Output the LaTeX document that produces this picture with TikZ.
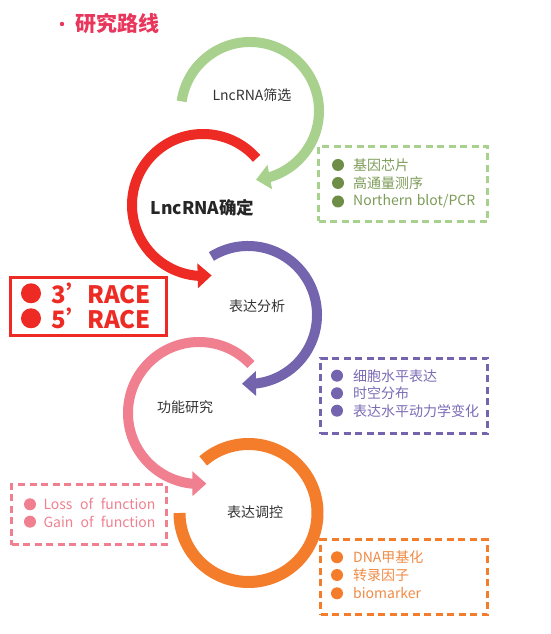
\documentclass[tikz,border=0pt]{standalone}
\usepackage{fontspec}
\setmainfont{Noto Sans CJK SC}
\usetikzlibrary{arrows.meta, bending, calc}

\definecolor{leafgreen}{HTML}{A9D18E}
\definecolor{olivedot}{HTML}{6E8E47}
\definecolor{olivetext}{HTML}{7D9B58}
\definecolor{racered}{HTML}{ED2A24}
\definecolor{lavender}{HTML}{7464AE}
\definecolor{lavtext}{HTML}{7A6BB5}
\definecolor{rosepink}{HTML}{F0808F}
\definecolor{tangerine}{HTML}{F47D2B}
\definecolor{tangtext}{HTML}{F08A45}
\definecolor{titlered}{HTML}{E8365C}
\definecolor{labelgray}{HTML}{333333}

\begin{document}
\begin{tikzpicture}[x=1pt, y=1pt,
    routearc/.style ={line width=10pt},
    arrowarc/.style ={routearc, -{Triangle[width=24pt, length=14pt]}},
    steplabel/.style={text=labelgray, inner sep=0pt, font=\fontsize{14}{16}\selectfont},
    notebox/.style  ={dash pattern=on 7pt off 4.5pt, line width=3pt, anchor=north west, inner sep=0pt},
    notetext/.style ={anchor=west, inner sep=0pt, font=\fontsize{14}{16}\selectfont},
    racetext/.style ={anchor=west, inner sep=0pt, text=racered, font=\bfseries\fontsize{24}{26}\selectfont}
]
\useasboundingbox (0,0) rectangle (550,634);

% ---------- parameters ----------
\def\rr{69pt}    % radius of the route circles
\def\rrb{71pt}   % radius of the left-hand circles
\def\dotr{6pt}   % bullet radius in the note boxes

% ---------- title ----------
\fill[titlered] (62,610) circle (2.2pt);
\node[anchor=west, inner sep=0pt, text=titlered, font=\bfseries\fontsize{21}{23}\selectfont] (title) at (75,611) {研究路线};

% ---------- circle centres ----------
\coordinate (Sc) at (250,523);   % screening
\coordinate (Cc) at (203,429);   % confirmation
\coordinate (Ec) at (248,319);   % expression
\coordinate (Fc) at (199,221);   % function
\coordinate (Rc) at (248.5,121); % regulation

% ---------- route arcs ----------
\draw[arrowarc, leafgreen] ($(Sc)+(172:\rr)$) arc[start angle=172, end angle=-85, radius=\rr];
\draw[arrowarc, racered]   ($(Cc)+(41:\rrb)$) arc[start angle=41, end angle=277, radius=\rrb];
\draw[arrowarc, lavender]  ($(Ec)+(122:\rr)$) arc[start angle=122, end angle=-95, radius=\rr];
\draw[arrowarc, rosepink]  ($(Fc)+(43:\rrb)$) arc[start angle=43, end angle=276, radius=\rrb];
\draw[routearc, tangerine, line width=12pt] ($(Rc)+(131:\rr)$) arc[start angle=131, end angle=-180, radius=\rr];

% ---------- step labels ----------
\node[steplabel] (screen) at (252,539) {LncRNA筛选};
\node[steplabel, text=black!85, font=\bfseries\fontsize{17.5}{19}\selectfont] (confirm) at (202.5,426.5) {LncRNA确定};
\node[steplabel] (express) at (257,327.3) {表达分析};
\node[steplabel] (funct)   at (185,227.3) {功能研究};
\node[steplabel] (regul)   at (255,122.3) {表达调控};

% ---------- screening methods ----------
\node[notebox, draw=leafgreen, minimum width=169pt, minimum height=75pt] (screenbox) at (317,489) {};
\fill[olivedot] (338,469) circle (\dotr);
\fill[olivedot] (338,451) circle (\dotr);
\fill[olivedot] (338,432.5) circle (\dotr);
\node[notetext, text=olivetext] (chip)  at (353,469) {基因芯片};
\node[notetext, text=olivetext] (seq)   at (353,451) {高通量测序};
\node[notetext, text=olivetext] (blot)  at (353,432.5) {\makebox[122pt][s]{Northern blot/PCR}};

% ---------- RACE box ----------
\node[draw=racered, line width=2.7pt, minimum width=156pt, minimum height=58pt, inner sep=0pt] (racebox) at (88.3,327.3) {};
\fill[racered] (31,340.7) circle (10pt);
\fill[racered] (31,315.7) circle (10pt);
\node[racetext] (race3) at (51.7,340.7) {3’\kern-3pt RACE};
\node[racetext] (race5) at (51.7,315.7) {5’\kern-3pt RACE};

% ---------- expression analysis ----------
\node[notebox, draw=lavender, minimum width=167pt, minimum height=75.5pt] (exprbox) at (319,277.3) {};
\fill[lavender] (337,258.3) circle (\dotr);
\fill[lavender] (337,240.7) circle (\dotr);
\fill[lavender] (337,223.3) circle (\dotr);
\node[notetext, text=lavtext] (cell)  at (353,258.3) {细胞水平表达};
\node[notetext, text=lavtext] (space) at (353,240.7) {时空分布};
\node[notetext, text=lavtext] (kinet) at (353,223.3) {表达水平动力学变化};

% ---------- function study ----------
\node[notebox, draw=rosepink, minimum width=155pt, minimum height=60pt] (funcbox) at (10,150.7) {};
\fill[rosepink] (30,129.7) circle (\dotr);
\fill[rosepink] (30,112.3) circle (\dotr);
\node[notetext, text=rosepink] (loss) at (43.3,129.7) {\makebox[112pt][s]{Loss of function}};
\node[notetext, text=rosepink] (gain) at (43.3,112.3) {\makebox[112pt][s]{Gain of function}};

% ---------- regulation ----------
\node[notebox, draw=tangerine, minimum width=167pt, minimum height=75pt] (regbox) at (319,95.7) {};
\fill[tangerine] (337,76.7) circle (\dotr);
\fill[tangerine] (337,59) circle (\dotr);
\fill[tangerine] (337,40.7) circle (\dotr);
\node[notetext, text=tangtext] (methyl) at (353,76.7) {DNA甲基化};
\node[notetext, text=tangtext] (tf)     at (353,59) {转录因子};
\node[notetext, text=tangtext] (marker) at (353,40.7) {biomarker};

\end{tikzpicture}
\end{document}
